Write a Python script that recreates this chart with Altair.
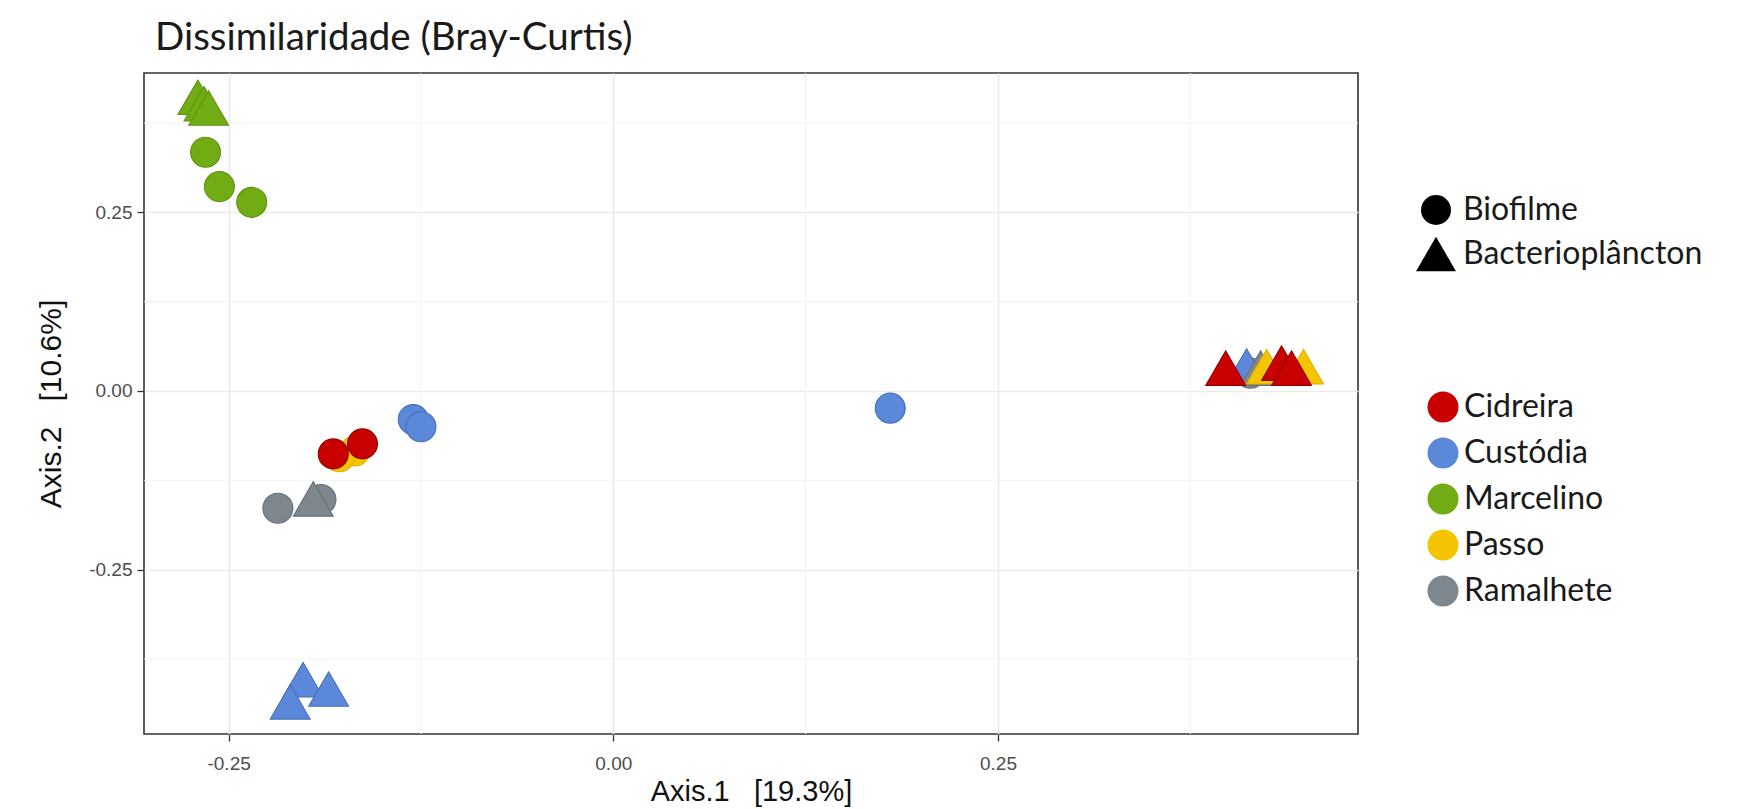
import altair as alt
import pandas as pd

# ---- data ----
local = [
    "Marcelino", "Marcelino", "Marcelino",
    "Marcelino", "Marcelino", "Marcelino",
    "Passo", "Passo",
    "Cidreira", "Cidreira",
    "Custódia", "Custódia", "Custódia",
    "Ramalhete", "Ramalhete", "Ramalhete",
    "Ramalhete",
    "Custódia", "Custódia", "Custódia",
    "Custódia", "Ramalhete", "Passo", "Passo",
    "Cidreira", "Cidreira", "Cidreira",
]
tipo = [
    "Biofilme", "Biofilme", "Biofilme",
    "Bacterioplâncton", "Bacterioplâncton", "Bacterioplâncton",
    "Biofilme", "Biofilme",
    "Biofilme", "Biofilme",
    "Biofilme", "Biofilme", "Biofilme",
    "Biofilme", "Biofilme", "Biofilme",
    "Bacterioplâncton",
    "Bacterioplâncton", "Bacterioplâncton", "Bacterioplâncton",
    "Bacterioplâncton", "Bacterioplâncton", "Bacterioplâncton", "Bacterioplâncton",
    "Bacterioplâncton", "Bacterioplâncton", "Bacterioplâncton",
]
axis1 = [
    -0.265, -0.256, -0.235,
    -0.270, -0.266, -0.263,
    -0.168, -0.178,
    -0.182, -0.163,
    -0.130, -0.125, 0.180,
    -0.218, -0.190, 0.414,
    -0.195,
    -0.2016, -0.185, -0.210,
    0.4116, 0.4207, 0.4246, 0.4486,
    0.398, 0.4343, 0.4408,
]
axis2 = [
    0.334, 0.286, 0.264,
    0.411, 0.402, 0.396,
    -0.084, -0.092,
    -0.088, -0.074,
    -0.040, -0.050, -0.024,
    -0.164, -0.152, 0.025,
    -0.151,
    -0.404, -0.417, -0.435,
    0.035, 0.032, 0.034, 0.034,
    0.032, 0.039, 0.032,
]

locais = ["Cidreira", "Custódia", "Marcelino", "Passo", "Ramalhete"]
fill_colors = ["#C80000", "#5B88D8", "#72AC14", "#F5C400", "#7E878D"]
edge_colors = ["#960000", "#4670B8", "#5E9210", "#E0B200", "#667076"]
tipos = ["Biofilme", "Bacterioplâncton"]

x_ticks = [-0.25, 0.0, 0.25]
y_ticks = [-0.25, 0.0, 0.25]
minor_x = [-0.125, 0.125, 0.375]
minor_y = [-0.375, -0.125, 0.125, 0.375]

df = pd.DataFrame({"Local": local, "Tipo": tipo, "Axis1": axis1, "Axis2": axis2})
df["ordem"] = range(len(df))

xdom = [-0.305, 0.484]
ydom = [-0.48, 0.445]
xscale = alt.Scale(domain=xdom, nice=False, zero=False)
yscale = alt.Scale(domain=ydom, nice=False, zero=False)

label_expr = "replace(format(datum.value, '.2f'), '\u2212', '-')"
sp = "\u00a0\u00a0\u00a0"

x_axis = alt.Axis(
    title="Axis.1" + sp + "[19.3%]", values=x_ticks, labelExpr=label_expr,
    grid=True, gridColor="#EBEBEB", gridWidth=1.6,
    ticks=True, tickSize=7, tickColor="#333333", tickWidth=1.3,
    domain=False,
    labelFont="Liberation Sans", labelFontSize=19, labelColor="#4D4D4D",
    labelPadding=13,
    titleFont="Liberation Sans", titleFontSize=29, titleFontWeight="normal",
    titleColor="#111111", titlePadding=4,
)
y_axis = alt.Axis(
    title="Axis.2" + sp + "[10.6%]", values=y_ticks, labelExpr=label_expr,
    grid=True, gridColor="#EBEBEB", gridWidth=1.6,
    ticks=True, tickSize=7, tickColor="#333333", tickWidth=1.3,
    domain=False,
    labelFont="Liberation Sans", labelFontSize=19, labelColor="#4D4D4D",
    labelPadding=5,
    titleFont="Liberation Sans", titleFontSize=30, titleFontWeight="normal",
    titleColor="#111111", titlePadding=22,
)

minor_grid_x = alt.Chart(pd.DataFrame({"v": minor_x})).mark_rule(
    color="#F3F3F3", strokeWidth=1
).encode(x=alt.X("v:Q", scale=xscale, axis=x_axis))

minor_grid_y = alt.Chart(pd.DataFrame({"v": minor_y})).mark_rule(
    color="#F3F3F3", strokeWidth=1
).encode(y=alt.Y("v:Q", scale=yscale, axis=y_axis))

triangle = "M0,-1.15L1.33,1.15L-1.33,1.15Z"

points = alt.Chart(df).mark_point(filled=True, size=900, opacity=1, strokeWidth=1.1).encode(
    x=alt.X("Axis1:Q", scale=xscale, axis=x_axis),
    y=alt.Y("Axis2:Q", scale=yscale, axis=y_axis),
    fill=alt.Fill(
        "Local:N",
        scale=alt.Scale(domain=locais, range=fill_colors),
        legend=alt.Legend(
            title=None, orient="none", legendX=1283, legendY=318,
            symbolType="circle", symbolSize=961, symbolStrokeWidth=0,
            labelFont="Lato", labelFontSize=32, labelColor="#1a1a1a",
            labelOffset=5, rowPadding=14, padding=0, labelLimit=400,
        ),
    ),
    stroke=alt.Stroke(
        "Local:N", scale=alt.Scale(domain=locais, range=edge_colors), legend=None
    ),
    shape=alt.Shape(
        "Tipo:N",
        scale=alt.Scale(domain=tipos, range=["circle", triangle]),
        legend=alt.Legend(
            title=None, orient="none", legendX=1276, legendY=121,
            symbolSize=900, symbolFillColor="#000000", symbolStrokeColor="#000000",
            symbolStrokeWidth=0,
            labelFont="Lato", labelFontSize=32, labelColor="#1a1a1a",
            labelOffset=11, rowPadding=10, padding=0, labelLimit=400,
        ),
    ),
    order=alt.Order("ordem:Q"),
)

chart = alt.layer(minor_grid_x, minor_grid_y, points).properties(
    width=1214,
    height=661,
    padding={"left": 136, "top": 65, "right": 377, "bottom": 76},
    autosize=alt.AutoSizeParams(type="none"),
    background="white",
    title=alt.Title(
        "Dissimilaridade (Bray-Curtis)", anchor="start", frame="group", dx=11,
        font="Lato", fontSize=38.5, fontWeight="normal", color="#1a1a1a", offset=14,
    ),
).configure_view(
    stroke="#333333", strokeWidth=1.6
)

chart.save("out.html", embed_options={"renderer": "svg", "actions": False})
